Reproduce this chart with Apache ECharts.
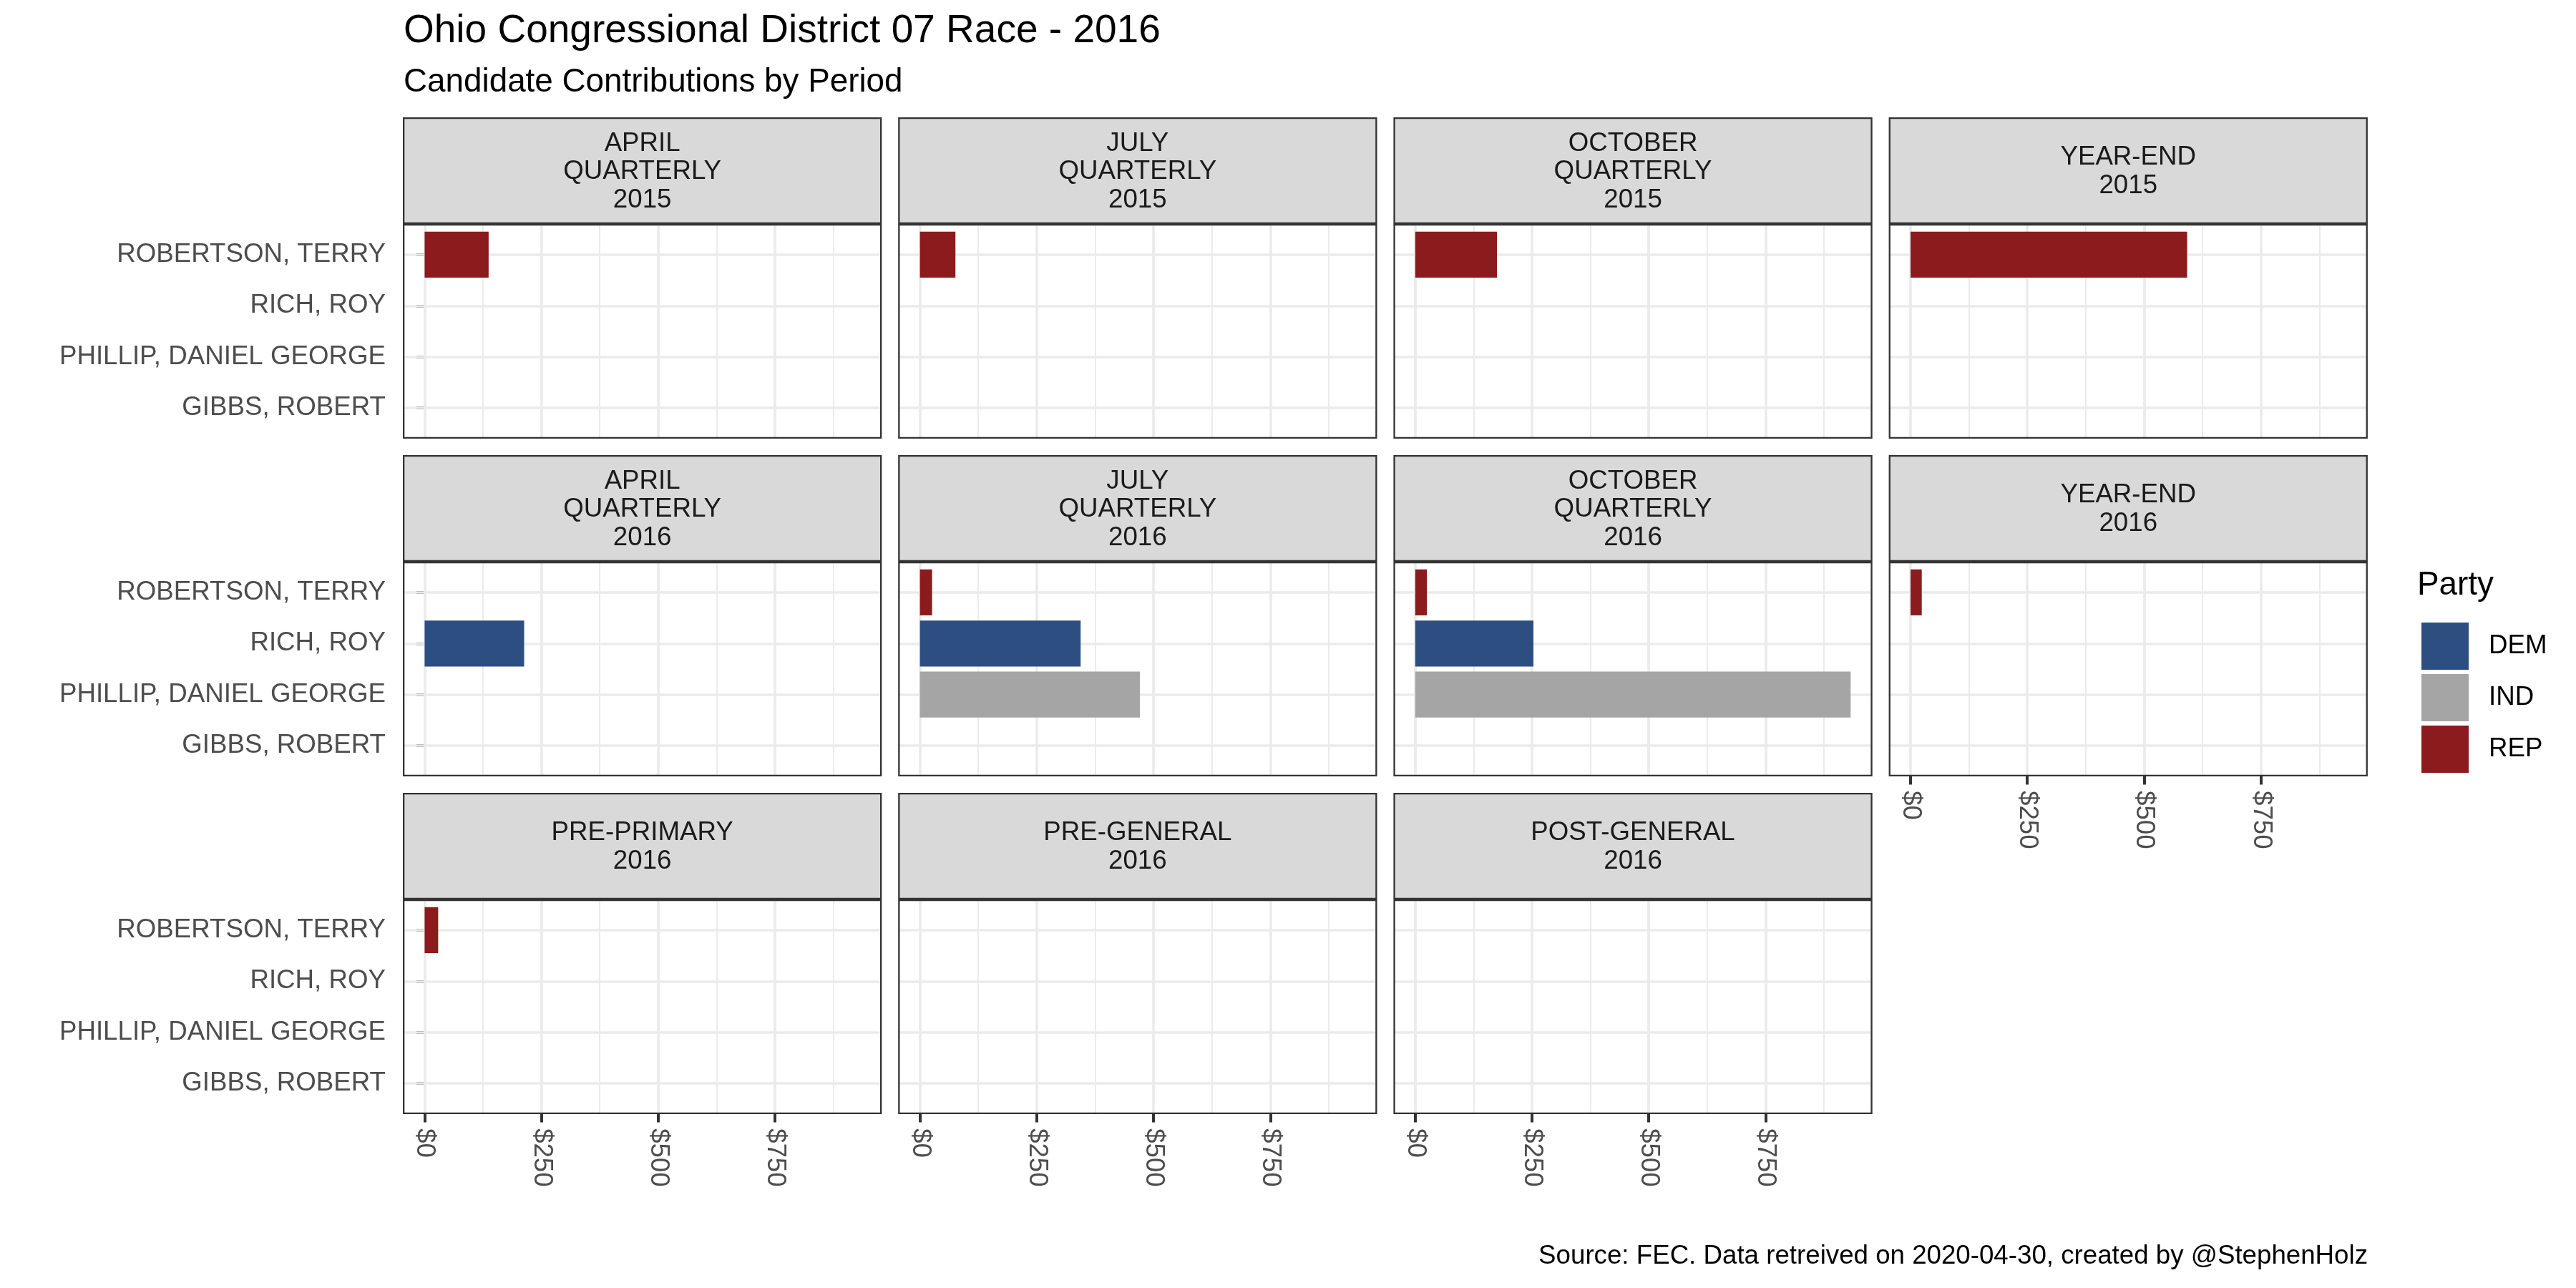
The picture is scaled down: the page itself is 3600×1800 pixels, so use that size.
<!DOCTYPE html>
<html><head><meta charset="utf-8">
<script src="https://cdn.jsdelivr.net/npm/echarts@6/dist/echarts.min.js"></script>
<style>html,body{margin:0;padding:0;background:#fff}#c{width:3600px;height:1800px}</style>
</head><body><div id="c"></div>
<script>
// ---------------- data ----------------
const candidates = ['ROBERTSON, TERRY', 'RICH, ROY', 'PHILLIP, DANIEL GEORGE', 'GIBBS, ROBERT'];
const candidateParty = ['REP', 'DEM', 'IND', 'REP'];
const parties = ['DEM', 'IND', 'REP'];
const partyColors = ['#2D4E80', '#A5A5A5', '#8B1B1D'];
const periods = [
  'APRIL\nQUARTERLY\n2015', 'JULY\nQUARTERLY\n2015', 'OCTOBER\nQUARTERLY\n2015', 'YEAR-END\n2015',
  'APRIL\nQUARTERLY\n2016', 'JULY\nQUARTERLY\n2016', 'OCTOBER\nQUARTERLY\n2016', 'YEAR-END\n2016',
  'PRE-PRIMARY\n2016', 'PRE-GENERAL\n2016', 'POST-GENERAL\n2016'
];
// contributions per period (same order as periods); null = none
const robertsonValues = [137, 76, 175, 592, null, 26, 25, 24, 29, null, null];
const richValues      = [null, null, null, null, 213, 344, 253, null, null, null, null];
const phillipValues   = [null, null, null, null, null, 471, 932, null, null, null, null];
const gibbsValues     = [null, null, null, null, null, null, null, null, null, null, null];
const candidateValues = [robertsonValues, richValues, phillipValues, gibbsValues];
const xTicks = [0, 250, 500, 750];
const xMinorTicks = [125, 375, 625, 875];
const titleText = 'Ohio Congressional District 07 Race - 2016';
const subtitleText = 'Candidate Contributions by Period';
const captionText = 'Source: FEC. Data retreived on 2020-04-30, created by @StephenHolz';
const legendTitle = 'Party';

// ---------------- layout ----------------
const FONT = '"Liberation Sans", Arial, sans-serif';
const L0 = 563, PW = 669.3, PGAP = 22.9;
const T0 = 164, SH = 149, PH = 300, RGAP = 23;
const NCOL = 4;
const allVals = candidateValues.flat().filter(v => v != null);
const dataMax = Math.max(...allVals);
const xMinAxis = -0.05 * dataMax, xMaxAxis = 1.05 * dataMax;

const grids = [], xAxes = [], yAxes = [], series = [], graphics = [];
const nP = periods.length;
periods.forEach((per, p) => {
  const col = p % NCOL, row = Math.floor(p / NCOL);
  const left = L0 + col * (PW + PGAP);
  const stripTop = T0 + row * (SH + PH + RGAP);
  const panelTop = stripTop + SH;
  const bottomOfCol = (p + NCOL >= nP);
  const firstCol = col === 0;
  const inset = PH * 0.1 / 4.2;
  grids.push({left: left, top: panelTop, width: PW, height: PH, containLabel: false});
  grids.push({left: left, top: panelTop + inset, width: PW, height: PH - 2 * inset, containLabel: false});
  const gA = 2 * p, gB = 2 * p + 1;
  xAxes.push({
    type: 'value', gridIndex: gA, min: xMinAxis, max: xMaxAxis,
    axisLine: {show: false}, splitLine: {show: false},
    axisTick: {show: bottomOfCol, customValues: xTicks, length: 11.5, lineStyle: {color: '#333333', width: 4}},
    axisLabel: {show: bottomOfCol, customValues: xTicks, rotate: -90, margin: 20,
      formatter: v => '$' + v, fontSize: 36.7, color: '#4D4D4D', fontFamily: FONT}
  });
  xAxes.push({type: 'value', gridIndex: gB, min: xMinAxis, max: xMaxAxis, show: false});
  yAxes.push({type: 'value', gridIndex: gA, min: 0, max: 1, show: false});
  yAxes.push({
    type: 'category', gridIndex: gB, data: candidates, inverse: true, boundaryGap: true,
    axisLine: {show: false}, splitLine: {show: false},
    axisTick: {show: firstCol, alignWithLabel: true, length: 11.5, lineStyle: {color: '#333333', width: 4}},
    axisLabel: {show: firstCol, interval: 0, margin: 24, fontSize: 36.7, color: '#4D4D4D', fontFamily: FONT}
  });
  series.push({
    type: 'line', xAxisIndex: gA, yAxisIndex: gA, data: [], z: 1, silent: true,
    markLine: {
      z: 1, silent: true, symbol: ['none', 'none'], label: {show: false}, animation: false,
      data: xMinorTicks.map(v => ({xAxis: v, lineStyle: {color: '#EBEBEB', width: 1.9, type: 'solid'}}))
        .concat(xTicks.map(v => ({xAxis: v, lineStyle: {color: '#EBEBEB', width: 3.7, type: 'solid'}})))
    }
  });
  series.push({
    type: 'line', xAxisIndex: gB, yAxisIndex: gB, data: [], z: 1, silent: true,
    markLine: {
      z: 1, silent: true, symbol: ['none', 'none'], label: {show: false}, animation: false,
      data: candidates.map(c => ({yAxis: c, lineStyle: {color: '#EBEBEB', width: 3.5, type: 'solid'}}))
    }
  });
  parties.forEach((party, k) => {
    series.push({
      type: 'bar', name: party, xAxisIndex: gB, yAxisIndex: gB, z: 3,
      barWidth: '90%', barGap: '-100%',
      itemStyle: {color: partyColors[k]},
      data: candidates.map((c, i) => candidateParty[i] === party ? candidateValues[i][p] : null)
    });
  });
  graphics.push({type: 'rect', z: 50, shape: {x: left + 1.15, y: stripTop + 1.15, width: PW - 2.3, height: SH - 2.3},
    style: {fill: '#D9D9D9', stroke: '#333333', lineWidth: 2.3}});
  graphics.push({type: 'text', z: 51, x: left + PW / 2, y: stripTop + SH / 2 + 1.5,
    style: {text: per, fill: '#1A1A1A', font: '36.7px ' + FONT, align: 'center', verticalAlign: 'middle', lineHeight: 39.4}});
  graphics.push({type: 'rect', z: 100, shape: {x: left + 1.15, y: panelTop + 1.15, width: PW - 2.3, height: PH - 2.3},
    style: {fill: 'none', stroke: '#333333', lineWidth: 2.3}});
});

graphics.push({type: 'text', z: 60, x: 564, y: 44.3, style: {text: titleText, fill: '#000', font: '55px ' + FONT, align: 'left', verticalAlign: 'middle'}});
graphics.push({type: 'text', z: 60, x: 564, y: 115.6, style: {text: subtitleText, fill: '#000', font: '45.8px ' + FONT, align: 'left', verticalAlign: 'middle'}});
graphics.push({type: 'text', z: 60, x: 3309, y: 1756, style: {text: captionText, fill: '#000', font: '36.7px ' + FONT, align: 'right', verticalAlign: 'middle'}});
graphics.push({type: 'text', z: 60, x: 3378, y: 818.6, style: {text: legendTitle, fill: '#000', font: '45.8px ' + FONT, align: 'left', verticalAlign: 'middle'}});

const chart = echarts.init(document.getElementById('c'), null, {renderer: 'canvas'});
chart.setOption({
  backgroundColor: '#ffffff',
  animation: false,
  textStyle: {fontFamily: FONT},
  grid: grids, xAxis: xAxes, yAxis: yAxes, series: series,
  legend: {
    data: parties, orient: 'vertical', left: 3379, top: 865, icon: 'rect',
    itemWidth: 66, itemHeight: 66, itemGap: 6, selectedMode: false,
    textStyle: {fontSize: 36.7, color: '#000', fontFamily: FONT, padding: [0, 0, 0, 23]}
  },
  graphic: {elements: graphics}
});
</script>
</body></html>
